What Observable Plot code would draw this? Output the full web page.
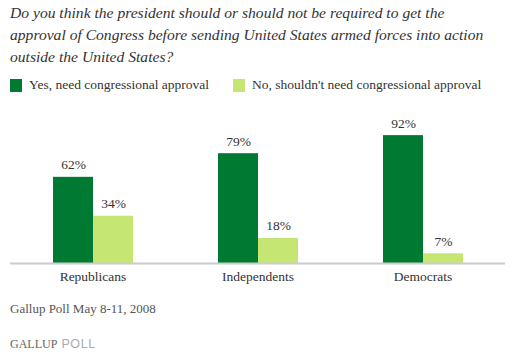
<!DOCTYPE html>
<html>
<head>
<meta charset="utf-8">
<script src="https://cdn.jsdelivr.net/npm/d3@7"></script>
<script src="https://cdn.jsdelivr.net/npm/@observablehq/plot@0.6"></script>
<style>
  body { margin: 0; background: #fff; }
  #wrap { position: relative; width: 513px; height: 354px; overflow: hidden; font-family: 'Liberation Serif', serif; color: #333; }
  #title { position: absolute; left: 10px; top: 1.5px; font-style: italic; font-size: 15.6px; line-height: 22px; color: #333; white-space: nowrap; }
  #legend { position: absolute; left: 10px; top: 78px; font-size: 13.5px; color: #333; white-space: nowrap; }
  .item { position: absolute; top: 0; white-space: nowrap; }
  .sw { position: absolute; top: 1px; width: 12px; height: 13px; }
  .lbl { position: absolute; left: 19px; top: -1px; }
  #chart { position: absolute; left: 0; top: 100px; }
  #caption { position: absolute; left: 10px; top: 301px; font-size: 13px; color: #555; white-space: nowrap; }
  #logo { position: absolute; left: 10px; top: 337px; font-size: 12px; white-space: nowrap; }
  #logo .g { color: #666; font-family: 'Liberation Serif', serif; }
  #logo .p { color: #aaa; font-family: 'Liberation Sans', sans-serif; font-size: 12.5px; letter-spacing: 0.6px; }
</style>
</head>
<body>
<div id="wrap">
  <div id="title"></div>
  <div id="legend"></div>
  <div id="chart"></div>
  <div id="caption"></div>
  <div id="logo"><span class="g">GALLUP</span><span class="p"> POLL</span></div>
</div>
<script>
const titleLines = [
  "Do you think the president should or should not be required to get the",
  "approval of Congress before sending United States armed forces into action",
  "outside the United States?"
];
const categories = ["Republicans", "Independents", "Democrats"];
const seriesNames = ["Yes, need congressional approval", "No, shouldn't need congressional approval"];
const yesValues = [62, 79, 92];
const noValues = [34, 18, 7];
const colors = ["#007a33", "#c6e673"];
const captionText = "Gallup Poll May 8-11, 2008";

document.getElementById("title").innerHTML = titleLines.join("<br>");
document.getElementById("caption").textContent = captionText;

const legend = document.getElementById("legend");
const legendX = [0, 223];
seriesNames.forEach((s, i) => {
  const it = document.createElement("div");
  it.className = "item";
  it.style.left = legendX[i] + "px";
  const sw = document.createElement("div");
  sw.className = "sw";
  sw.style.background = colors[i];
  const lb = document.createElement("div");
  lb.className = "lbl";
  lb.textContent = s;
  it.appendChild(sw);
  it.appendChild(lb);
  legend.appendChild(it);
});

const data = categories.flatMap((c, i) => [
  {group: c, series: seriesNames[0], value: yesValues[i]},
  {group: c, series: seriesNames[1], value: noValues[i]}
]);

const chart = Plot.plot({
  width: 513,
  height: 190,
  marginLeft: 10,
  marginRight: 8,
  marginTop: 24,
  marginBottom: 27,
  style: {fontFamily: "Liberation Serif", background: "transparent"},
  fx: {domain: categories, paddingInner: 0, paddingOuter: 0, label: null, axis: null},
  x: {domain: seriesNames, paddingInner: 0, paddingOuter: 1.0625, axis: null},
  y: {domain: [0, 100], axis: null},
  color: {domain: seriesNames, range: colors},
  marks: [
    Plot.barY(data, {fx: "group", x: "series", y: "value", fill: "series"}),
    Plot.ruleY([0], {stroke: "#cccccc", strokeWidth: 2}),
    Plot.text(data, {fx: "group", x: "series", y: "value", text: d => d.value + "%", dy: -8, fontSize: 13.5, fill: "#333", lineAnchor: "bottom"}),
    Plot.axisFx({anchor: "bottom", tickSize: 0, tickPadding: 8, fontSize: 13.5, label: null, color: "#333"})
  ]
});
document.getElementById("chart").appendChild(chart);
</script>
</body>
</html>
